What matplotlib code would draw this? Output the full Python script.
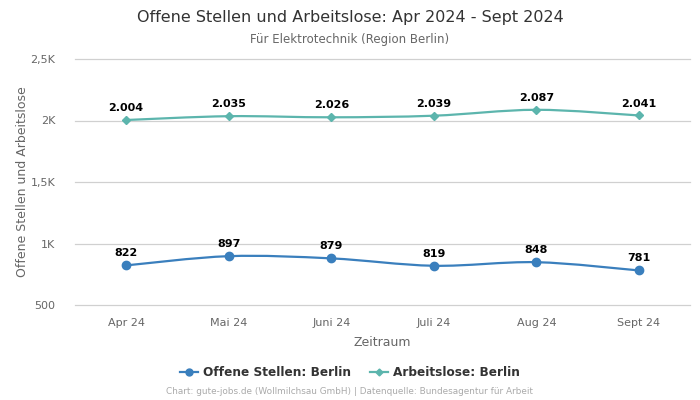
# -*- coding: utf-8 -*-
import matplotlib
matplotlib.use('Agg')
import matplotlib.pyplot as plt
from matplotlib.path import Path
from matplotlib.patches import PathPatch
from matplotlib.ticker import FuncFormatter
from matplotlib.lines import Line2D

# ---------------------------------------------------------------
# DATA

monate = ['Apr 24', 'Mai 24', 'Juni 24', 'Juli 24', 'Aug 24', 'Sept 24']
offene_stellen = [822, 897, 879, 819, 848, 781]
arbeitslose = [2004, 2035, 2026, 2039, 2087, 2041]

BLAU = '#3a7fbd'
TUERKIS = '#5cb5ad'


def glatte_kurve(xs, ys):
    # Catmull-Rom -> kubische Bezier-Segmente
    n = len(xs)
    verts = [(xs[0], ys[0])]
    codes = [Path.MOVETO]
    for i in range(n - 1):
        a = max(i - 1, 0)
        b = min(i + 2, n - 1)
        c1 = (xs[i] + (xs[i + 1] - xs[a]) / 6, ys[i] + (ys[i + 1] - ys[a]) / 6)
        c2 = (xs[i + 1] - (xs[b] - xs[i]) / 6, ys[i + 1] - (ys[b] - ys[i]) / 6)
        verts += [c1, c2, (xs[i + 1], ys[i + 1])]
        codes += [Path.CURVE4] * 3
    return Path(verts, codes)


def tausender(v):
    return f'{v:,}'.replace(',', '.')


def achsen_format(v, pos):
    if v >= 1000:
        s = f'{v / 1000:g}'.replace('.', ',')
        return s + 'K'
    return f'{v:g}'


fig = plt.figure(figsize=(7, 4), dpi=100)
ax = fig.add_axes([0.107, 0.2375, 0.879, 0.615])

x = list(range(len(monate)))
for werte, farbe, marker, ms in [(offene_stellen, BLAU, 'o', 6),
                                 (arbeitslose, TUERKIS, 'D', 4)]:
    ax.add_patch(PathPatch(glatte_kurve(x, werte), facecolor='none',
                           edgecolor=farbe, lw=1.6, zorder=3))
    ax.plot(x, werte, ls='none', marker=marker, ms=ms, color=farbe, zorder=4)
    for xi, yi in zip(x, werte):
        ax.annotate(tausender(yi), (xi, yi), xytext=(0, 5),
                    textcoords='offset points', ha='center', va='bottom',
                    fontsize=8, fontweight='bold', color='black', zorder=5)

ax.set_xlim(-0.5, len(monate) - 0.5)
ax.set_ylim(500, 2500)
ax.set_yticks([500, 1000, 1500, 2000, 2500])
ax.yaxis.set_major_formatter(FuncFormatter(achsen_format))
ax.set_xticks(x)
ax.set_xticklabels(monate)
ax.tick_params(axis='both', length=0, labelsize=8, labelcolor='#666666')
ax.tick_params(axis='x', pad=9)
ax.tick_params(axis='y', pad=14)
ax.grid(axis='y', color='#d0d0d0', lw=0.9)
for gl in ax.get_ygridlines():
    gl.set_clip_on(False)
ax.set_axisbelow(True)
for s in ax.spines.values():
    s.set_visible(False)

ax.set_xlabel('Zeitraum', fontsize=9, color='#666666', labelpad=6)
ax.set_ylabel('Offene Stellen und Arbeitslose', fontsize=9, color='#666666',
              labelpad=1)

fig.text(0.5, 0.957, 'Offene Stellen und Arbeitslose: Apr 2024 - Sept 2024',
         ha='center', va='center', fontsize=11.5, color='#333333')
fig.text(0.5, 0.902, 'Für Elektrotechnik (Region Berlin)', ha='center',
         va='center', fontsize=8.5, color='#666666')

handles = [Line2D([], [], color=BLAU, marker='o', ms=5, lw=1.6),
           Line2D([], [], color=TUERKIS, marker='D', ms=3.5, lw=1.6)]
leg = fig.legend(handles, ['Offene Stellen: Berlin', 'Arbeitslose: Berlin'],
                 loc='center', bbox_to_anchor=(0.5, 0.068), ncol=2,
                 frameon=False, handlelength=1.5, columnspacing=1.6,
                 handletextpad=0.4, prop={'size': 8.7, 'weight': 'bold'})
for t in leg.get_texts():
    t.set_color('#333333')

fig.text(0.5, 0.02,
         'Chart: gute-jobs.de (Wollmilchsau GmbH) | Datenquelle: Bundesagentur für Arbeit',
         ha='center', va='center', fontsize=6.4, color='#aaaaaa')

fig.savefig('out.png')
